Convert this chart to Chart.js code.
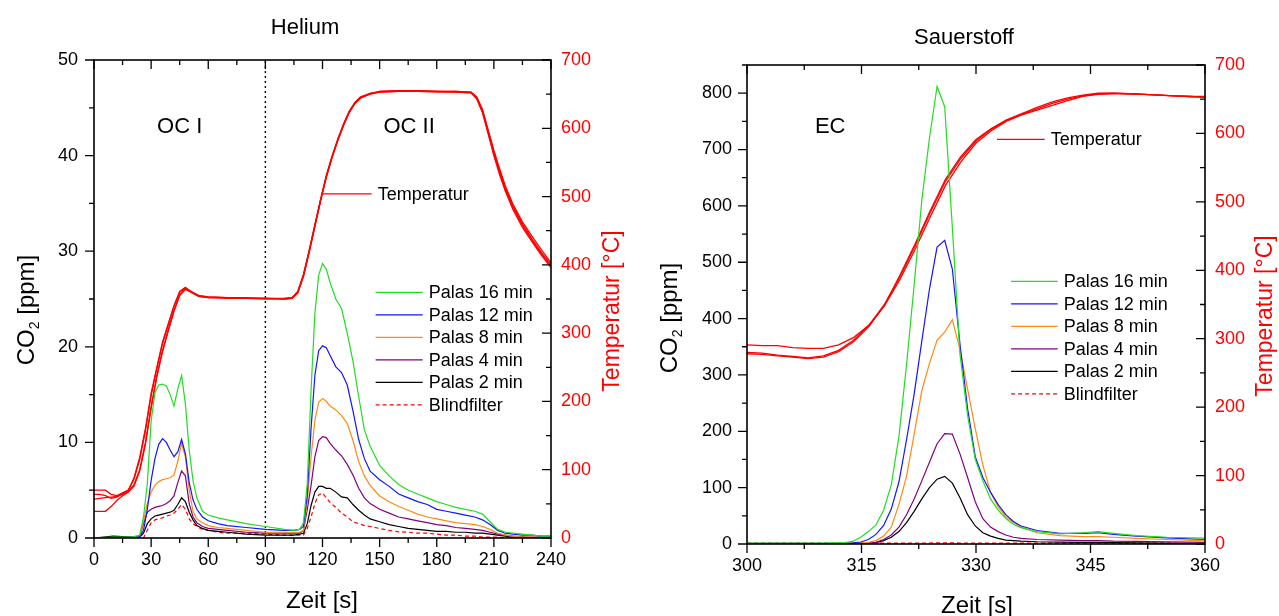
<!DOCTYPE html>
<html>
<head>
<meta charset="utf-8">
<script src="https://cdn.jsdelivr.net/npm/chart.js@4.4.1/dist/chart.umd.min.js"></script>
<style>
    html, body { margin: 0; padding: 0; background: #fff; overflow: hidden; }
    #heliumChart { position: absolute; left: 0; top: 0; }
    #oxygenChart { position: absolute; left: 640px; top: 0; }
</style>
</head>
<body>
<canvas id="heliumChart" width="640" height="616"></canvas>
<canvas id="oxygenChart" width="639" height="616"></canvas>
<script>
'use strict';

/** Helium (OC I / OC II) */

const heTime = [0, 10, 20, 24, 26, 28, 30, 32, 34, 36, 38, 40, 42, 44, 46, 48, 50, 52, 54, 57, 60, 65, 70, 80, 90, 100, 105, 108, 110,
    112, 114, 116, 118, 120, 122, 124, 127, 130, 133, 136, 139, 142, 145, 150, 155, 160, 165, 170, 175, 180, 185, 190, 195, 200,
    204, 208, 212, 216, 220, 225, 230, 235, 240];
const hePalas16 = [0, 0.1, 0.1, 0.3, 2.2, 5.7, 12.2, 15.2, 16.0, 16.1, 15.9, 15.0, 13.8, 15.6, 17.0, 14.0, 9.2, 6.0, 4.2, 2.8, 2.4, 2.1, 1.9, 1.5, 1.2,
    0.9, 0.8, 0.9, 1.6, 5.7, 15.5, 23.5, 27.5, 28.7, 28.1, 26.7, 25.0, 24.0, 21.4, 18.5, 14.8, 11.3, 9.6, 7.6, 6.5, 5.6, 5.0, 4.6, 4.2,
    3.8, 3.5, 3.2, 3.0, 2.8, 2.5, 1.7, 0.9, 0.6, 0.5, 0.4, 0.3, 0.2, 0.2];
const hePalas12 = [0, 0, 0.1, 0.1, 0.8, 3.0, 6.0, 8.3, 9.8, 10.4, 10.0, 9.2, 8.5, 9.0, 10.3, 8.8, 5.8, 4.0, 3.0, 2.2, 1.8, 1.5, 1.3, 1.1, 0.9,
    0.8, 0.8, 0.9, 1.2, 4.5, 11.5, 17.0, 19.6, 20.1, 19.9, 19.1, 17.9, 17.3, 16.0, 13.3, 10.3, 8.3, 7.0, 6.1, 5.4, 4.6, 4.2, 3.8, 3.5,
    3.0, 2.8, 2.6, 2.4, 2.2, 1.9, 1.4, 0.8, 0.5, 0.4, 0.3, 0.3, 0.2, 0.2];
const hePalas8 = [0, 0, 0, 0.1, 1.8, 3.6, 4.8, 5.5, 5.9, 6.1, 6.2, 6.3, 6.6, 8.0, 9.9, 8.5, 5.0, 2.8, 2.0, 1.6, 1.3, 1.1, 1.0, 0.8, 0.6,
    0.6, 0.6, 0.6, 0.8, 3.8, 8.5, 12.3, 14.2, 14.6, 14.3, 13.8, 13.4, 12.8, 12.0, 10.2, 8.0, 6.5, 5.5, 4.4, 3.8, 3.3, 2.9, 2.5, 2.2,
    2.0, 1.8, 1.6, 1.5, 1.4, 1.2, 0.9, 0.5, 0.3, 0.2, 0.1, 0.1, 0.1, 0.1];
const hePalas4 = [0, 0, 0, 0.1, 1.5, 2.7, 3.0, 3.2, 3.3, 3.4, 3.6, 3.9, 4.4, 5.8, 7.0, 6.5, 3.6, 2.2, 1.6, 1.2, 1.0, 0.9, 0.8, 0.6, 0.5,
    0.5, 0.5, 0.5, 0.8, 3.0, 5.5, 8.5, 10.2, 10.6, 10.5, 9.9, 9.2, 8.6, 7.7, 6.6, 5.2, 4.2, 3.6, 3.0, 2.6, 2.2, 2.0, 1.8, 1.6,
    1.4, 1.3, 1.1, 1.0, 0.9, 0.8, 0.6, 0.4, 0.3, 0.2, 0.1, 0.1, 0.1, 0.1];
const hePalas2 = [0, 0.2, 0.1, 0.1, 0.5, 1.5, 2.0, 2.3, 2.4, 2.5, 2.6, 2.7, 2.9, 3.5, 4.2, 3.8, 2.7, 1.9, 1.3, 1.0, 0.8, 0.7, 0.6, 0.4, 0.3,
    0.3, 0.3, 0.4, 0.5, 1.5, 3.4, 4.8, 5.4, 5.4, 5.2, 5.2, 4.8, 4.3, 4.2, 3.5, 2.9, 2.4, 2.0, 1.7, 1.4, 1.2, 1.0, 0.9, 0.8,
    0.7, 0.7, 0.6, 0.6, 0.5, 0.5, 0.4, 0.3, 0.2, 0.1, 0.1, 0, 0, 0];
const heBlind = [0, 0, 0, 0, 0, 0.8, 1.6, 1.9, 2.0, 2.1, 2.3, 2.4, 2.6, 3.0, 3.5, 3.0, 2.0, 1.5, 1.2, 0.9, 0.8, 0.6, 0.5, 0.5, 0.4,
    0.3, 0.3, 0.3, 0.3, 1.0, 2.2, 3.6, 4.5, 4.7, 4.2, 3.7, 3.2, 2.6, 2.2, 1.7, 1.5, 1.3, 1.2, 1.0, 0.8, 0.65, 0.6, 0.5, 0.5,
    0.4, 0.3, 0.3, 0.2, 0.2, 0.1, 0.1, 0.1, 0, 0, 0, 0, 0, 0];

const heTempTime = [0, 3, 6, 9, 12, 15, 18, 21, 24, 27, 30, 33, 36, 39, 42, 45, 48, 51, 55, 60, 70, 80, 90, 100, 104, 107, 110, 113,
    116, 119, 122, 125, 128, 131, 134, 137, 140, 145, 150, 160, 170, 180, 190, 198, 201, 204, 207, 210, 213, 216, 220, 225, 230, 235, 240];
const heTempRun1 = [70, 70, 70, 64, 62, 66, 70, 88, 118, 160, 212, 250, 287, 314, 340, 361, 367, 361, 355, 353, 352, 352, 351, 351,
    352, 360, 385, 420, 458, 495, 530, 558, 583, 605, 624, 637, 645, 650, 654, 655, 655, 654, 654, 653, 645, 626, 595, 565, 538, 513,
    486, 460, 438, 418, 400];
const heTempRun2 = [64, 64, 62, 58, 60, 65, 70, 86, 115, 157, 208, 248, 285, 312, 339, 360, 366, 360, 354, 352, 352, 351, 351, 350,
    351, 359, 383, 418, 456, 494, 528, 557, 582, 604, 623, 636, 644, 651, 653, 654, 655, 654, 653, 652, 643, 623, 592, 560, 532, 508,
    481, 455, 434, 414, 396];
const heTempRun3 = [57, 58, 59, 60, 61, 64, 68, 78, 100, 140, 192, 238, 275, 305, 333, 356, 365, 361, 355, 353, 352, 351, 350, 351,
    352, 361, 386, 421, 459, 496, 531, 559, 584, 606, 625, 638, 646, 651, 654, 655, 654, 654, 654, 653, 646, 628, 598, 568, 541, 516,
    489, 463, 442, 422, 403];
const heTempRun4 = [39, 39, 39, 46, 55, 62, 67, 76, 98, 137, 190, 236, 273, 303, 332, 355, 364, 360, 354, 352, 351, 351, 351, 350,
    351, 359, 384, 419, 457, 494, 529, 557, 582, 604, 623, 637, 645, 650, 653, 654, 654, 653, 653, 652, 644, 624, 594, 562, 535, 510,
    484, 458, 436, 416, 398];
const heDivider = 90;

/** Sauerstoff (EC) */

const oxTime = [300, 305, 310, 312.9, 313.9, 314.9, 315.9, 316.9, 317.9, 318.9, 319.9, 320.9, 321.9, 322.9, 323.9, 324.9, 325.9,
    326.9, 327.9, 328.9, 329.9, 330.9, 331.9, 332.9, 333.9, 334.9, 335.9, 338, 341, 344, 346, 348, 351, 355, 360];
const oxPalas16 = [1.5, 1.5, 1.5, 2.5, 5, 12, 22, 34, 60, 105, 190, 318, 460, 610, 720, 812, 776, 562, 337, 228, 150, 112, 80, 60,
    45, 35, 29, 22, 18, 20, 22, 19, 15, 12, 10.5];
const oxPalas12 = [1, 1, 1, 1.5, 2, 3.5, 8, 17, 33, 62, 110, 185, 266, 360, 452, 527, 539, 488, 355, 240, 155, 118, 92, 70,
    52, 40, 32, 24, 19, 19, 20, 17, 14, 11, 8];
const oxPalas8 = [0.5, 0.5, 0.5, 1, 1.5, 2, 3, 6, 14, 30, 70, 120, 195, 272, 320, 362, 376, 398, 345, 275, 205, 140, 92, 66,
    48, 38, 30, 20, 15, 13, 13, 12, 10, 8, 5.6];
const oxPalas4 = [0.5, 0.5, 0.5, 0.5, 0.5, 1, 1.5, 3, 8, 16, 30, 52, 80, 112, 145, 178, 196, 195, 160, 118, 75, 45, 30, 22,
    16, 12, 10, 8, 7, 6, 6, 5, 4.5, 4, 3];
const oxPalas2 = [0.3, 0.3, 0.3, 0.3, 0.5, 0.7, 1, 2.5, 6, 12, 22, 38, 58, 80, 100, 115, 120, 108, 82, 52, 32, 20, 14, 10,
    7, 6, 5, 4, 3.5, 3, 3, 2.5, 2, 1.5, 1];
const oxBlind = [1.5, 1.5, 1.5, 1.5, 1.5, 1.5, 1.5, 1.5, 1.5, 1.6, 1.6, 1.7, 1.7, 1.8, 1.8, 1.9, 1.9, 1.9, 1.8, 1.8, 1.8, 1.7,
    1.7, 1.7, 1.6, 1.6, 1.6, 1.5, 1.5, 1.5, 1.5, 1.4, 1.4, 1.4, 1.3];

const oxTempTime = [300, 302, 304, 306, 308, 310, 312, 314, 316, 318, 320, 322, 324, 326, 328, 330, 332, 334, 336, 338, 340, 342,
    344, 346, 348, 350, 352, 354, 356, 358, 360];
const oxTempRun1 = [291, 290, 290, 287, 286, 286, 291, 302, 320, 348, 386, 430, 478, 524, 558, 586, 604, 618, 627, 634, 641, 648,
    654, 657, 658, 658, 657, 656, 655, 654, 654];
const oxTempRun2 = [280, 279, 276, 274, 272, 275, 283, 298, 320, 350, 390, 435, 484, 530, 563, 589, 606, 619, 628, 636, 644, 650,
    655, 658, 659, 658, 657, 656, 655, 654, 653];
const oxTempRun3 = [278, 277, 275, 273, 271, 273, 281, 296, 318, 349, 392, 438, 487, 533, 566, 591, 607, 620, 629, 638, 646, 652,
    656, 659, 659, 658, 657, 656, 655, 654, 653];

const seriesLabels = ['Palas 16 min', 'Palas 12 min', 'Palas 8 min', 'Palas 4 min', 'Palas 2 min', 'Blindfilter'];
const seriesColors = ['#22dd22', '#1414ff', '#ff8a14', '#800080', '#000000', '#ff0000'];

const FONT = "'Liberation Sans', Arial, sans-serif";
Chart.defaults.font.family = FONT;
Chart.defaults.color = '#000';

function toPoints(xs, ys) {
    return xs.map((x, i) => ({ x: x, y: ys[i] }));
}

function co2Datasets(time, series) {
    return series.map((values, i) => ({
        label: seriesLabels[i],
        data: toPoints(time, values),
        borderColor: seriesColors[i],
        borderWidth: 1.2,
        borderDash: i === 5 ? [4, 3] : [],
        yAxisID: 'y',
    }));
}

function tempDatasets(time, runs) {
    return runs.map((values) => ({
        label: 'Temperatur',
        data: toPoints(time, values),
        borderColor: '#ff0000',
        borderWidth: 1.3,
        yAxisID: 'y2',
    }));
}

function eachTick(scale, minor, fn) {
    const major = scale.options.ticks.stepSize;
    const n = Math.round((scale.max - scale.min) / minor);
    for (let k = 0; k <= n; k++) {
        const v = scale.min + k * minor;
        const r = v / major;
        fn(scale.getPixelForValue(v), Math.abs(r - Math.round(r)) < 1e-6);
    }
}

function drawRich(ctx, parts, cx, cy, size, color, rot) {
    const fontOf = (p) => `${p.sub ? Math.round(size * 0.6) : size}px ${FONT}`;
    ctx.save();
    ctx.translate(cx, cy);
    ctx.rotate(rot || 0);
    ctx.fillStyle = color || '#000';
    ctx.textBaseline = 'middle';
    ctx.textAlign = 'left';
    let total = 0;
    parts.forEach((p) => {
        ctx.font = fontOf(p);
        total += ctx.measureText(p.text).width;
    });
    let pos = -total / 2;
    parts.forEach((p) => {
        ctx.font = fontOf(p);
        ctx.fillText(p.text, pos, p.sub ? size * 0.32 : 0);
        pos += ctx.measureText(p.text).width;
    });
    ctx.restore();
}

// frame, ticks on all four sides, legend blocks and free text
const decorPlugin = {
    id: 'decor',
    afterDraw(chart, args, opts) {
        const ctx = chart.ctx;
        const { left, right, top, bottom } = chart.chartArea;
        const { x, y, y2 } = chart.scales;

        ctx.save();
        ctx.strokeStyle = '#000';
        ctx.setLineDash([]);
        ctx.lineWidth = 1.3;
        ctx.beginPath();
        eachTick(x, opts.xMinor, (px, major) => {
            const len = major ? 9 : 5;
            ctx.moveTo(px, bottom);
            ctx.lineTo(px, bottom + len);
            ctx.moveTo(px, top);
            ctx.lineTo(px, top + len);
        });
        eachTick(y, opts.yMinor, (py, major) => {
            const len = major ? 9 : 5;
            ctx.moveTo(left - len, py);
            ctx.lineTo(left, py);
        });
        eachTick(y2, opts.y2Minor, (py, major) => {
            const len = major ? 9 : 5;
            ctx.moveTo(right - len, py);
            ctx.lineTo(right, py);
        });
        ctx.stroke();
        ctx.lineWidth = 1.6;
        ctx.strokeRect(left, top, right - left, bottom - top);

        opts.legends.forEach((block) => {
            const x1 = x.getPixelForValue(block.x1);
            const x2 = x.getPixelForValue(block.x2);
            const y0 = y.getPixelForValue(block.y);
            block.ids.forEach((id, i) => {
                const ds = chart.data.datasets[id];
                const py = y0 + i * block.gap;
                ctx.strokeStyle = ds.borderColor;
                ctx.lineWidth = 1.3;
                ctx.setLineDash(ds.borderDash || []);
                ctx.beginPath();
                ctx.moveTo(x1, py);
                ctx.lineTo(x2, py);
                ctx.stroke();
                ctx.setLineDash([]);
                ctx.fillStyle = '#000';
                ctx.font = `18px ${FONT}`;
                ctx.textAlign = 'left';
                ctx.textBaseline = 'middle';
                ctx.fillText(ds.label, x2 + 6, py + 1);
            });
        });

        opts.notes.forEach((n) => {
            drawRich(ctx, [{ text: n.text }], x.getPixelForValue(n.x), y.getPixelForValue(n.y), 22, '#000', 0);
        });
        opts.labels.forEach((l) => {
            drawRich(ctx, l.parts, l.px, l.py, l.size, l.color, l.rot);
        });
        ctx.restore();
    },
};

function baseScales(area, xRange, yRange, y2Range) {
    const hidden = { display: false, drawTicks: false };
    return {
        x: {
            type: 'linear', min: xRange[0], max: xRange[1],
            grid: hidden, border: { display: false },
            ticks: { stepSize: xRange[2], font: { size: 18 }, padding: 11, autoSkip: false, maxRotation: 0 },
            afterFit: (s) => { s.height = area.xHeight; },
        },
        y: {
            position: 'left', min: yRange[0], max: yRange[1],
            grid: hidden, border: { display: false },
            ticks: { stepSize: yRange[2], font: { size: 18 }, padding: area.yPad, includeBounds: false },
            afterFit: (s) => { s.width = area.yWidth; },
        },
        y2: {
            position: 'right', min: y2Range[0], max: y2Range[1],
            grid: hidden, border: { display: false },
            ticks: { stepSize: y2Range[2], font: { size: 18 }, padding: 10, color: '#ff0000' },
            afterFit: (s) => { s.width = area.y2Width; },
        },
    };
}

const co2Title = [{ text: 'CO' }, { text: '2', sub: true }, { text: ' [ppm]' }];

new Chart(document.getElementById('heliumChart'), {
    type: 'line',
    data: {
        datasets: [
            ...co2Datasets(heTime, [hePalas16, hePalas12, hePalas8, hePalas4, hePalas2, heBlind]),
            ...tempDatasets(heTempTime, [heTempRun1, heTempRun2, heTempRun3, heTempRun4]),
            {
                label: 'OC I / OC II',
                data: [{ x: heDivider, y: 0 }, { x: heDivider, y: 50 }],
                borderColor: '#000',
                borderWidth: 1.4,
                borderDash: [2, 3],
                yAxisID: 'y',
            },
        ],
    },
    options: {
        responsive: false,
        animation: false,
        events: [],
        layout: { padding: { top: 60 } },
        elements: { point: { radius: 0 }, line: { tension: 0 } },
        plugins: {
            legend: { display: false },
            tooltip: { enabled: false },
            decor: {
                xMinor: 15, yMinor: 5, y2Minor: 50,
                legends: [
                    { x1: 147.9, x2: 172.6, y: 25.7, gap: 22.5, ids: [0, 1, 2, 3, 4, 5] },
                    { x1: 120, x2: 145.8, y: 36.0, gap: 0, ids: [6] },
                ],
                notes: [
                    { text: 'OC I', x: 45, y: 43 },
                    { text: 'OC II', x: 165.5, y: 43 },
                ],
                labels: [
                    { parts: [{ text: 'Helium' }], px: 305, py: 28, size: 22, color: '#000', rot: 0 },
                    { parts: [{ text: 'Zeit [s]' }], px: 322, py: 601, size: 24, color: '#000', rot: 0 },
                    { parts: co2Title, px: 27, py: 310, size: 24, color: '#000', rot: -Math.PI / 2 },
                    { parts: [{ text: 'Temperatur [°C]' }], px: 613, py: 311, size: 23, color: '#ff0000', rot: -Math.PI / 2 },
                ],
            },
        },
        scales: baseScales({ xHeight: 78, yWidth: 94, y2Width: 89, yPad: 16 }, [0, 240, 30], [0, 50, 10], [0, 700, 100]),
    },
    plugins: [decorPlugin],
});

new Chart(document.getElementById('oxygenChart'), {
    type: 'line',
    data: {
        datasets: [
            ...co2Datasets(oxTime, [oxPalas16, oxPalas12, oxPalas8, oxPalas4, oxPalas2, oxBlind]),
            ...tempDatasets(oxTempTime, [oxTempRun1, oxTempRun2, oxTempRun3]),
        ],
    },
    options: {
        responsive: false,
        animation: false,
        events: [],
        layout: { padding: { top: 65 } },
        elements: { point: { radius: 0 }, line: { tension: 0 } },
        plugins: {
            legend: { display: false },
            tooltip: { enabled: false },
            decor: {
                xMinor: 7.5, yMinor: 50, y2Minor: 50,
                legends: [
                    { x1: 334.6, x2: 340.7, y: 466, gap: 22.5, ids: [0, 1, 2, 3, 4, 5] },
                    { x1: 332.75, x2: 339.0, y: 718, gap: 0, ids: [6] },
                ],
                notes: [
                    { text: 'EC', x: 310.9, y: 740 },
                ],
                labels: [
                    { parts: [{ text: 'Sauerstoff' }], px: 324, py: 38, size: 22, color: '#000', rot: 0 },
                    { parts: [{ text: 'Zeit [s]' }], px: 337, py: 606, size: 24, color: '#000', rot: 0 },
                    { parts: co2Title, px: 30, py: 318, size: 24, color: '#000', rot: -Math.PI / 2 },
                    { parts: [{ text: 'Temperatur [°C]' }], px: 626, py: 316, size: 23, color: '#ff0000', rot: -Math.PI / 2 },
                ],
            },
        },
        scales: baseScales({ xHeight: 72, yWidth: 107, y2Width: 74, yPad: 15 }, [300, 360, 15], [0, 850, 100], [0, 700, 100]),
    },
    plugins: [decorPlugin],
});
</script>
</body>
</html>
